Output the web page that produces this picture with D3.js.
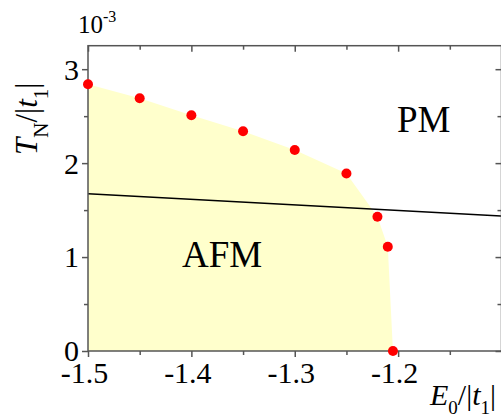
<!DOCTYPE html>
<html>
<head>
<meta charset="utf-8">
<script src="https://cdn.jsdelivr.net/npm/d3@7"></script>
<style>
  body { margin: 0; background: #fff; }
</style>
</head>
<body>
<svg id="chart" width="501" height="418"></svg>
<script>
// phase boundary T_N vs E0 (units of 1e-3)
var energy = [-1.5, -1.45, -1.4, -1.35, -1.3, -1.25, -1.22, -1.21, -1.205];
var tNeel  = [2.84, 2.69, 2.51, 2.34, 2.14, 1.89, 1.43, 1.11, 0];

// straight reference line
var lineE = [-1.5, -1.1];
var lineT = [1.673, 1.437];

var xMajor = [-1.5, -1.4, -1.3, -1.2, -1.1];
var xMinor = [-1.45, -1.35, -1.25, -1.15];
var xLabels = ["-1.5", "-1.4", "-1.3", "-1.2", ""];
var yMajor = [0, 1, 2, 3];
var yMinor = [0.5, 1.5, 2.5];

var serif = '"Liberation Serif", "Times New Roman", Times, serif';

var svg = d3.select("#chart");
var pLeft = 88, pRight = 501.5, pTop = 45.7, pBottom = 351;

var x = d3.scaleLinear().domain([-1.5, -1.1]).range([pLeft, pRight]);
var y = d3.scaleLinear().domain([0, 3.25]).range([pBottom, pTop]);

var pts = energy.map((e, i) => ({e: e, t: tNeel[i]}));

// AFM region
var area = d3.area()
    .x(d => x(d.e))
    .y0(y(0))
    .y1(d => y(d.t));
svg.append("path")
    .datum(pts)
    .attr("d", area)
    .attr("fill", "#ffffcc");

// black line
var ln = lineE.map((e, i) => ({e: e, t: lineT[i]}));
svg.append("path")
    .datum(ln)
    .attr("d", d3.line().x(d => x(d.e)).y(d => y(d.t)))
    .attr("fill", "none")
    .attr("stroke", "#000")
    .attr("stroke-width", 1.5);

// axes
var axColor = "#555";
function styleAxis(g) {
    g.attr("font-family", serif).attr("font-size", 30);
    g.select(".domain").remove();
    g.selectAll("line").attr("stroke", axColor).attr("stroke-width", 1.5);
    g.selectAll("text").style("font-family", serif).attr("fill", "#000");
}

// bottom
svg.append("g").attr("transform", `translate(0,${pBottom})`)
    .call(d3.axisBottom(x).tickValues(xMinor).tickSize(4).tickFormat(""))
    .call(styleAxis);
var bx = svg.append("g").attr("transform", `translate(0,${pBottom})`)
    .call(d3.axisBottom(x).tickValues(xMajor).tickSize(6).tickFormat((d, i) => xLabels[i]))
    .call(styleAxis);
bx.selectAll("text")
    .attr("x", -4)
    .attr("y", 0)
    .attr("dy", 32);

// top
svg.append("g").attr("transform", `translate(0,${pTop})`)
    .call(d3.axisBottom(x).tickValues(xMinor).tickSize(4).tickFormat(""))
    .call(styleAxis);
svg.append("g").attr("transform", `translate(0,${pTop})`)
    .call(d3.axisBottom(x).tickValues(xMajor).tickSize(6).tickFormat(""))
    .call(styleAxis);

// left
svg.append("g").attr("transform", `translate(${pLeft},0)`)
    .call(d3.axisLeft(y).tickValues(yMinor).tickSize(4).tickFormat(""))
    .call(styleAxis);
var ly = svg.append("g").attr("transform", `translate(${pLeft},0)`)
    .call(d3.axisLeft(y).tickValues(yMajor).tickSize(6).tickPadding(3).tickFormat(d3.format("d")))
    .call(styleAxis);
ly.selectAll("text").attr("dy", "0.33em");

// right
svg.append("g").attr("transform", `translate(${pRight},0)`)
    .call(d3.axisLeft(y).tickValues(yMinor).tickSize(4).tickFormat(""))
    .call(styleAxis);
svg.append("g").attr("transform", `translate(${pRight},0)`)
    .call(d3.axisLeft(y).tickValues(yMajor).tickSize(6).tickFormat(""))
    .call(styleAxis);

// frame
svg.append("rect")
    .attr("x", pLeft).attr("y", pTop)
    .attr("width", pRight - pLeft).attr("height", pBottom - pTop)
    .attr("fill", "none")
    .attr("stroke", axColor)
    .attr("stroke-width", 1.5);

// data points
svg.selectAll("circle.pt")
    .data(pts)
    .enter().append("circle")
    .attr("class", "pt")
    .attr("cx", d => x(d.e))
    .attr("cy", d => y(d.t))
    .attr("r", 5)
    .attr("fill", "#ff0000");

// labels
function label(px, py, size) {
    return svg.append("text").attr("x", px).attr("y", py)
        .style("font-family", serif).attr("font-size", size).attr("fill", "#000");
}
label(397, 131.5, 37).text("PM");
label(182, 266.5, 37).text("AFM");

// 10^-3
var mult = label(78, 33, 25);
mult.append("tspan").text("10");
mult.append("tspan").attr("font-size", 16).attr("dy", -11).text("-3");

// x title
var xt = label(430, 405, 30);
xt.append("tspan").attr("font-style", "italic").text("E");
xt.append("tspan").attr("font-size", 19).attr("dy", 9).text("0");
xt.append("tspan").attr("dy", -9).text("/|");
xt.append("tspan").attr("font-style", "italic").text("t");
xt.append("tspan").attr("font-size", 19).attr("dy", 9).text("1");
xt.append("tspan").attr("dy", -9).text("|");

// y title
var yt = svg.append("text")
    .attr("transform", "translate(37,155) rotate(-90)")
    .style("font-family", serif)
    .attr("font-size", 31);
yt.append("tspan").attr("font-style", "italic").text("T");
yt.append("tspan").attr("font-size", 21).attr("dy", 11).text("N");
yt.append("tspan").attr("dy", -11).text("/|");
yt.append("tspan").attr("font-style", "italic").text("t");
yt.append("tspan").attr("font-size", 21).attr("dy", 11).text("1");
yt.append("tspan").attr("dy", -11).text("|");
</script>
</body>
</html>
